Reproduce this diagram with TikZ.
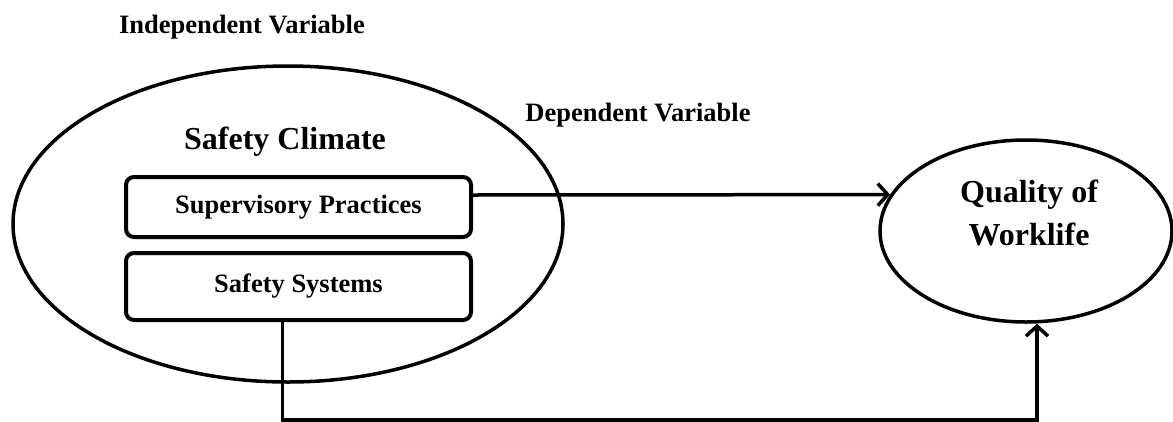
\documentclass[tikz,border=0pt]{standalone}
\usepackage{fontspec}
\setmainfont{Liberation Serif}
\usetikzlibrary{shapes.geometric, arrows.meta}
\tikzset{
  var/.style={ellipse, draw, line width=3.5pt, inner sep=0pt},
  dim/.style={draw, rounded corners=8pt, line width=4pt, minimum width=345pt, font=\fontsize{26.5}{30}\selectfont\bfseries},
  arr/.style={line width=3.5pt, -{Straight Barb[length=10pt,width=22pt,line width=3.5pt]}},
  head/.style={font=\fontsize{26.5}{30}\selectfont\bfseries},
  big/.style={font=\fontsize{32}{43}\selectfont\bfseries, align=center}
}

\begin{document}
\begin{tikzpicture}[x=1pt,y=-1pt]
\useasboundingbox (0,0) rectangle (1173,421);
% titoli
\node[head] (indep) at (242,27) {Independent Variable};
\node[head] (dep) at (638,115) {Dependent Variable};
% safety climate, ellisse grande
\node[var, minimum width=550pt, minimum height=316pt] (sc) at (288,224) {};
\node[big] (sctitle) at (285,142) {Safety Climate};
\node[dim, minimum height=60pt] (sp) at (298.5,207) {Supervisory Practices};
\node[dim, minimum height=67pt] (ss) at (298.5,286.5) {Safety Systems};
% quality of worklife, ellisse destra
\node[var, minimum width=292pt, minimum height=182pt] (qow) at (1026,231) {};
\node[big] (qowtext) at (1029,213) {Quality of\\Worklife};
% frecce
\draw[arr] ([yshift=12pt]sp.east) -- (qow.165);
\draw[arr] ([xshift=-16pt]ss.south) -- ++(0,98) -| ([xshift=11pt]qow.south);
\end{tikzpicture}
\end{document}
